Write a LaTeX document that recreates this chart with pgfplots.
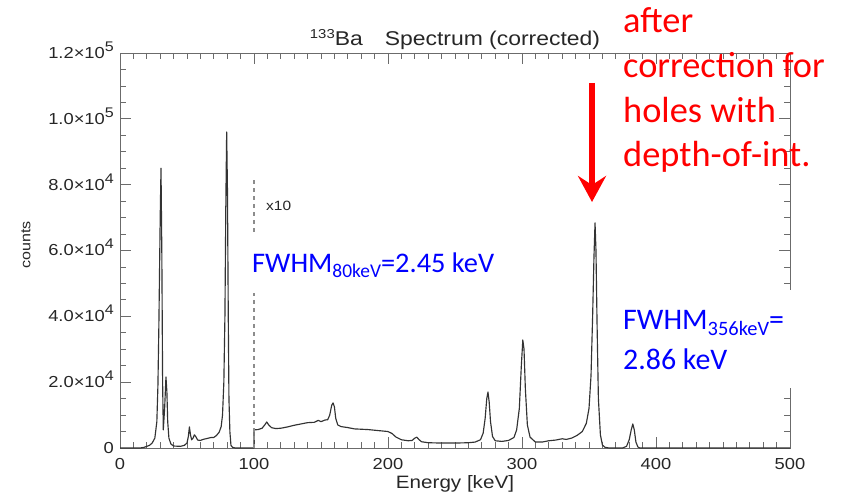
\documentclass[border=0pt]{standalone}
\usepackage{pgfplots}
\pgfplotsset{compat=1.18}
\usepackage{fontspec}
\setmainfont{Liberation Sans}
\newfontfamily\idl{Liberation Sans}[FakeStretch=1.15]
\newfontfamily\callout{Carlito}
\usetikzlibrary{arrows.meta}

\newcommand{\idlsize}[1]{\idl\fontsize{#1}{#1}\selectfont}
\newcommand{\tenpow}[2]{#1×10\raisebox{7bp}{\fontsize{14}{14}\selectfont #2}}
\definecolor{frame}{gray}{0.42}
\definecolor{trace}{gray}{0.2}

% 133Ba spectrum: counts below 100 keV, counts x10 above 100 keV
\pgfplotstableread{
E C
0 0
15 0
18 200
20 500
22 800
24 1500
26 3000
27.5 8000
28.3 19000
29 37000
30 70000
30.6 85000
31.2 60000
31.8 20000
32.3 5500
33.3 12000
34.3 21600
35 17000
35.6 8000
36.5 3000
38 1200
40 600
45 500
48 800
50 1500
51 3500
51.8 6400
52.6 4000
53.5 2500
54.5 3000
55.5 4000
56.5 3500
58 2400
60 2300
62 2600
65 2900
68 3200
70 3200
72 3800
74 4800
75.5 6500
76.5 10000
77.5 20000
78.3 40000
79 75000
79.6 96000
80.2 78000
80.8 40000
81.3 15000
82 5000
82.8 800
84 200
86 0
100 0
100 5500
103 5600
106 6000
108 7000
109.5 7900
111 7000
113 6200
116 5900
120 6000
125 6400
130 6900
135 7300
140 7700
145 7800
148 8400
150 8000
153 8500
155 8600
156.5 10000
158 13000
159 13700
160 12500
161 9000
162.5 7000
165 6500
170 6200
175 5800
180 5700
185 5600
190 5400
195 5200
200 5000
203 4400
206 3300
210 2500
215 2200
218 2300
220 3000
221.5 3300
223 2600
225 1900
230 1600
240 1500
250 1500
260 1600
265 1800
269 2500
271 4500
272.5 9000
273.7 15000
274.6 17000
275.5 14000
276.5 8000
278 3500
280 2200
285 2000
290 2300
294 3200
296 5500
298 12000
299.5 25000
300.6 32800
301.5 30000
302.5 18000
304 7000
306 3300
310 1800
315 1800
320 2200
325 2400
330 2800
333 2600
337 3000
341 3800
345 5000
348 7500
350 12000
351.5 22000
352.7 40000
353.7 58000
354.5 68400
355.2 60000
356 38000
357 15000
358.5 4000
360 900
362 200
365 0
375 0
378 500
380 2500
381.5 5500
382.7 7300
383.8 5500
385 1800
386.5 300
388 0
500 0
}\spectrum

\begin{document}
\begin{tikzpicture}[x=1bp,y=1bp]
\useasboundingbox (0,0) rectangle (845,494);
\begin{axis}[
  at={(120bp,46bp)}, anchor=south west,
  scale only axis, width=670bp, height=395bp,
  xmin=0, xmax=500, ymin=0, ymax=120000,
  xtick={0,100,...,500},
  xticklabels={0,100,200,300,400,500},
  minor x tick num=9,
  ytick={0,20000,...,120000},
  yticklabels={0,\tenpow{2.0}{4},\tenpow{4.0}{4},\tenpow{6.0}{4},\tenpow{8.0}{4},\tenpow{1.0}{5},\tenpow{1.2}{5}},
  minor y tick num=3,
  scaled y ticks=false,
  tick align=inside,
  major tick length=11bp, minor tick length=6bp,
  axis line style={frame, line width=0.9bp},
  tick style={frame, line width=0.8bp},
  ticklabel style={font=\idlsize{16}, text=black!85},
  xticklabel style={anchor=base, inner sep=0pt, yshift=-22bp},
  yticklabel style={anchor=base east, inner sep=0pt, xshift=-6bp, yshift=-5.5bp},
  clip=false,
]
\addplot[trace, line width=1.15bp, line join=round] table[x=E, y=C] {\spectrum};
% boundary of the x10 region
\addplot[black!45, line width=1.4bp, dash pattern=on 4bp off 4bp] coordinates {(100,0) (100,82000)};
\node[anchor=base west, font=\idlsize{13.5}, text=black!85] at (axis cs:106.5,72300) {x10};
\end{axis}

% titles and axis labels
\node[anchor=base, font=\idlsize{20}, text=black!85] at (455,448)
  {\raisebox{7bp}{\fontsize{13}{13}\selectfont 133}Ba\hspace{22bp}Spectrum (corrected)};
\node[anchor=base, font=\idlsize{18}, text=black!85] at (455,5) {Energy [keV]};
\node[rotate=90, font=\idlsize{14}, text=black!85] at (26,249) {counts};

% annotations
\fill[white] (240,494-235) rectangle (505,494-293);
\node[anchor=base west, inner sep=0pt, text={rgb,255:red,0;green,0;blue,255}] at (252,494-273)
  {\callout\fontsize{28.5}{34}\selectfont FWHM\raisebox{-5bp}{\fontsize{19.5}{20}\selectfont 80keV}=2.45 keV};

\fill[white] (606,494-290) rectangle (805,494-388);
\node[anchor=base west, inner sep=0pt, text={rgb,255:red,0;green,0;blue,255}] at (623,494-330)
  {\callout\fontsize{30}{36}\selectfont FWHM\raisebox{-6bp}{\fontsize{20.5}{21}\selectfont 356keV}=};
\node[anchor=base west, inner sep=0pt, text={rgb,255:red,0;green,0;blue,255}] at (623,494-370)
  {\callout\fontsize{30}{36}\selectfont 2.86 keV};

\draw[red, line width=6bp, -{Stealth[length=26bp, width=28bp, inset=9bp]}] (592,494-83) -- (592,494-202);

\foreach \txt/\base in {after/33, correction for/78, holes with/123, depth-of-int./167}{
  \node[anchor=base west, inner sep=0pt, text=red] at (623,494-\base)
    {\callout\fontsize{36.5}{44}\selectfont \txt};
}
\end{tikzpicture}
\end{document}
